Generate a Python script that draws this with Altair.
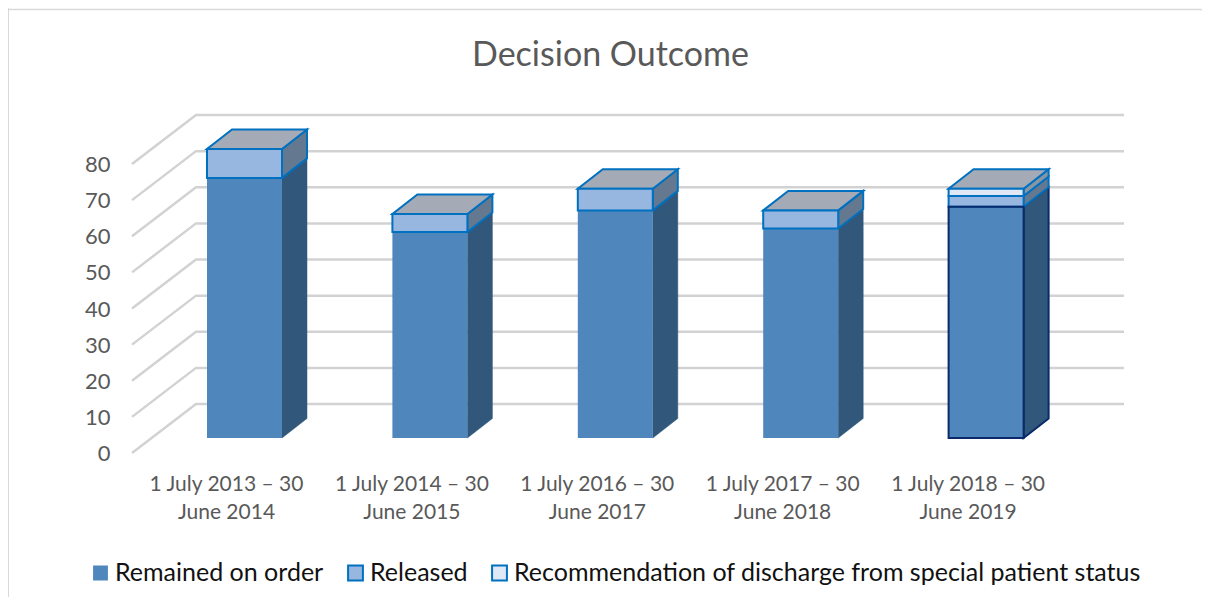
import json
import altair as alt
import pandas as pd

CATEGORIES = [["1 July 2013 – 30", "June 2014"], ["1 July 2014 – 30", "June 2015"], ["1 July 2016 – 30", "June 2017"],
              ["1 July 2017 – 30", "June 2018"], ["1 July 2018 – 30", "June 2019"]]
REMAINED = [72, 57, 63, 58, 64]
RELEASED = [8, 5, 6, 5, 3]
DISCHARGE = [0, 0, 0, 0, 2]
SERIES = ["Remained on order", "Released", "Recommendation of discharge from special patient status"]
TICKS = [0, 10, 20, 30, 40, 50, 60, 70, 80]

W, H = 1194, 589
PX_X = 185.4          # pixels per category
PX_Y = 3.6125         # pixels per value unit
X0, Y0 = 236.5, 430   # view position of first bar centre / value zero
HALF = 37.5 / PX_X
DX, DY = 25 / PX_X, 19.5 / PX_Y
FONT = "Lato"
GREY = "#595959"
BLUE = "#0070c0"
NAVY = "#0b2a6b"
FILL = ["#4f87bd", "#97b7e0", "#dfe8f4"]
SIDE = ["#31587a", "#64798f", "#8a95a3"]

x_scale = alt.Scale(domain=[-X0 / PX_X, (W - X0) / PX_X], nice=False, zero=False)
y_scale = alt.Scale(domain=[(Y0 - H) / PX_Y, Y0 / PX_Y], nice=False, zero=False)
x_axis = alt.Axis(
    values=list(range(5)), domain=False, ticks=False, grid=False, offset=-124, labelPadding=0, title=None,
    labelOffset=-18.5, labelFont=FONT, labelFontSize=21, labelColor=GREY, labelLineHeight=28,
    labelOverlap=False, labelFlush=False, labelBound=False,
    labelExpr=json.dumps(CATEGORIES, ensure_ascii=False) + "[datum.value]")
y_axis = alt.Axis(
    values=TICKS, domain=False, ticks=False, grid=False, offset=-102, labelPadding=0, title=None,
    labelOffset=15.5, labelFont=FONT, labelFontSize=22, labelColor=GREY, labelOverlap=False,
    labelFlush=False, labelBound=False, format="d")
X = lambda f="x": alt.X(f"{f}:Q", scale=x_scale, axis=x_axis)
Y = lambda f="y": alt.Y(f"{f}:Q", scale=y_scale, axis=y_axis)

front, side, top = [], [], []
for i in range(len(CATEGORIES)):
    base = 0
    for name, vals in zip(SERIES, [REMAINED, RELEASED, DISCHARGE]):
        v = vals[i]
        if v == 0:
            continue
        t = base + v
        front.append(dict(bar=i, series=name, x=i - HALF, x2=i + HALF, y=base, y2=t))
        side.append(dict(bar=i, series=name, x=i + HALF, y=base, y2=t))
        side.append(dict(bar=i, series=name, x=i + HALF + DX, y=base + DY, y2=t + DY))
        base = t
    top.append(dict(bar=i, x=i - HALF, y=base, y2=base))
    top.append(dict(bar=i, x=i - HALF + DX, y=base, y2=base + DY))
    top.append(dict(bar=i, x=i + HALF, y=base, y2=base + DY))
    top.append(dict(bar=i, x=i + HALF + DX, y=base + DY, y2=base + DY))
front, side, top = pd.DataFrame(front), pd.DataFrame(side), pd.DataFrame(top)

grid = []
for v in TICKS:
    grid.append(dict(v=v, x=(132 - 244.5) / PX_X, y=v - 15 / PX_Y, o=0))
    grid.append(dict(v=v, x=(196 - 244.5) / PX_X, y=v + 34 / PX_Y, o=1))
    grid.append(dict(v=v, x=(1124 - 244.5) / PX_X, y=v + 34 / PX_Y, o=2))
grid = pd.DataFrame(grid)

layers = []
layers.append(alt.Chart(pd.DataFrame({"a": [0]})).mark_rule(color="#d9d9d9", strokeWidth=2).encode(
    x=alt.value(0), y=alt.value(0), y2=alt.value(H)))
layers.append(alt.Chart(pd.DataFrame({"a": [0]})).mark_rule(color="#d9d9d9", strokeWidth=1.5).encode(
    x=alt.value(0), x2=alt.value(W), y=alt.value(1.5)))
layers.append(alt.Chart(grid).mark_line(color="#d2d2d2", strokeWidth=2.5).encode(
    x=X(), y=Y(), detail="v:N", order="o:Q"))


def side_layer(name, fill, stroke, width, subset=None):
    d = side[side.series == name]
    if subset is not None:
        d = d[d.bar == subset]
    return alt.Chart(d).mark_area(orient="vertical", fill=fill, stroke=stroke, strokeWidth=width, opacity=1).encode(
        x=X(), y=Y(), y2="y2:Q", detail="bar:N")


layers.append(side_layer(SERIES[0], SIDE[0], SIDE[0], 0.5))
layers.append(side_layer(SERIES[0], SIDE[0], NAVY, 2, 4))
layers.append(side_layer(SERIES[1], SIDE[1], BLUE, 2))
layers.append(side_layer(SERIES[2], SIDE[2], BLUE, 2))
layers.append(alt.Chart(top).mark_area(orient="vertical", fill="#a5abb6", stroke=BLUE, strokeWidth=2, opacity=1).encode(
    x=X(), y=Y(), y2="y2:Q", detail="bar:N"))
layers.append(alt.Chart(front).mark_bar(strokeWidth=2, opacity=1).encode(
    x=X(), x2="x2:Q", y=Y(), y2="y2:Q",
    fill=alt.Fill("series:N", scale=alt.Scale(domain=SERIES, range=FILL), legend=alt.Legend(
        title=None, orient="none", legendX=80, legendY=550, direction="horizontal", columns=3,
        symbolType="square", symbolSize=220, symbolStrokeWidth=2, symbolOpacity=1,
        labelFont=FONT, labelFontSize=25, labelColor="#111111", labelOffset=2, columnPadding=19,
        labelLimit=700, clipHeight=30)),
    stroke=alt.Stroke("series:N", scale=alt.Scale(domain=SERIES, range=["transparent", BLUE, BLUE])),
    order=alt.Order("y:Q"),
))
layers.append(alt.Chart(front[(front.series == SERIES[0]) & (front.bar == 4)]).mark_bar(
    fillOpacity=0, stroke=NAVY, strokeWidth=2).encode(x=X(), x2="x2:Q", y=Y(), y2="y2:Q"))

chart = alt.layer(*layers).properties(
    width=W, height=H, padding=0,
    autosize=alt.AutoSizeParams(type="none"),
    title=alt.TitleParams("Decision Outcome", font=FONT, fontSize=34, fontWeight="normal", color=GREY,
                          anchor="middle", dy=70, dx=5.5),
).configure_view(stroke=None)

chart.save("out.html", embed_options={"renderer": "svg", "actions": False})
